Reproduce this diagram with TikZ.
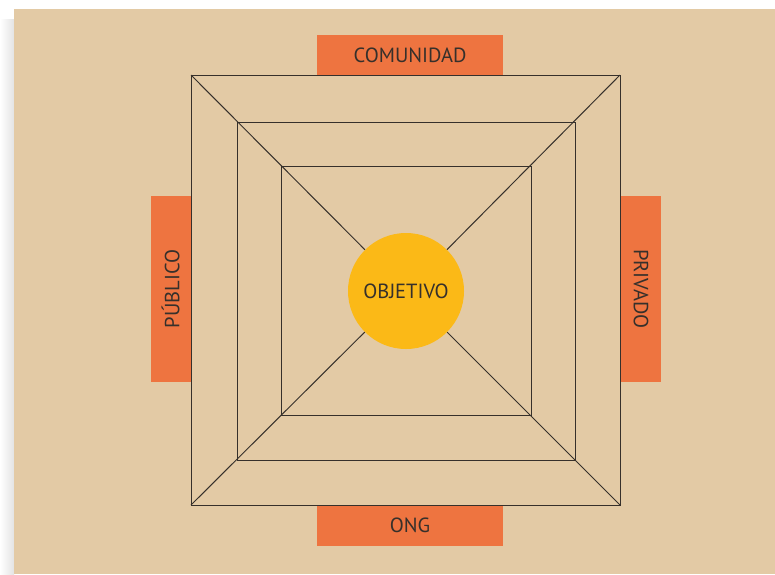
\documentclass[tikz,border=0pt]{standalone}
\usepackage{fontspec}
\setmainfont{PT Sans}
\usetikzlibrary{positioning}
\definecolor{paper}{HTML}{E3CAA5}
\definecolor{tagorange}{HTML}{EE7440}
\definecolor{goalyellow}{HTML}{FBB917}
\definecolor{ink}{HTML}{36302B}

\begin{document}
\begin{tikzpicture}[x=0.03cm,y=-0.03cm,
    tag/.style={fill=tagorange,text=ink,inner sep=0pt,
      minimum width=5.58cm,minimum height=1.2cm,
      font=\fontsize{17.5}{20}\selectfont},
    frame/.style={draw=ink,line width=0.85pt}]
    % page and its shadow
    \useasboundingbox (0,0) rectangle (775,574);
    \fill[white] (0,0) rectangle (775,574);
    \shade[left color=white,right color=gray!22] (0,19) rectangle (14,574);
    \fill[paper] (14,9) rectangle (775,574);
    % corners of the three frames
    \coordinate (o1) at (191,75);  \coordinate (o2) at (620,505);
    \coordinate (m1) at (237,122); \coordinate (m2) at (575,460);
    \coordinate (i1) at (281,166); \coordinate (i2) at (531,415);
    \draw[frame] (o1) rectangle (o2);
    \draw[frame] (m1) rectangle (m2);
    \draw[frame] (i1) rectangle (i2);
    % centre
    \node[circle,fill=goalyellow,text=ink,inner sep=0pt,minimum size=3.48cm,
      font=\fontsize{17.5}{20}\selectfont] (objetivo) at (406,291) {\raisebox{-2pt}{OBJETIVO}};
    % diagonals
    \draw[frame] (o1) -- (objetivo);
    \draw[frame] (620,75) -- (objetivo);
    \draw[frame] (191,505) -- (objetivo);
    \draw[frame] (o2) -- (objetivo);
    % tags
    \node[tag] (comunidad) at (410,55) {\raisebox{-2pt}{COMUNIDAD}};
    \node[tag] (ong) at (410,525.5) {\raisebox{-1pt}{ONG}};
    \node[tag,rotate=90] (publico) at (171,289) {\raisebox{1pt}{PÚBLICO}};
    \node[tag,rotate=-90] (privado) at (640.5,289) {\raisebox{1pt}{PRIVADO}};
\end{tikzpicture}
\end{document}
